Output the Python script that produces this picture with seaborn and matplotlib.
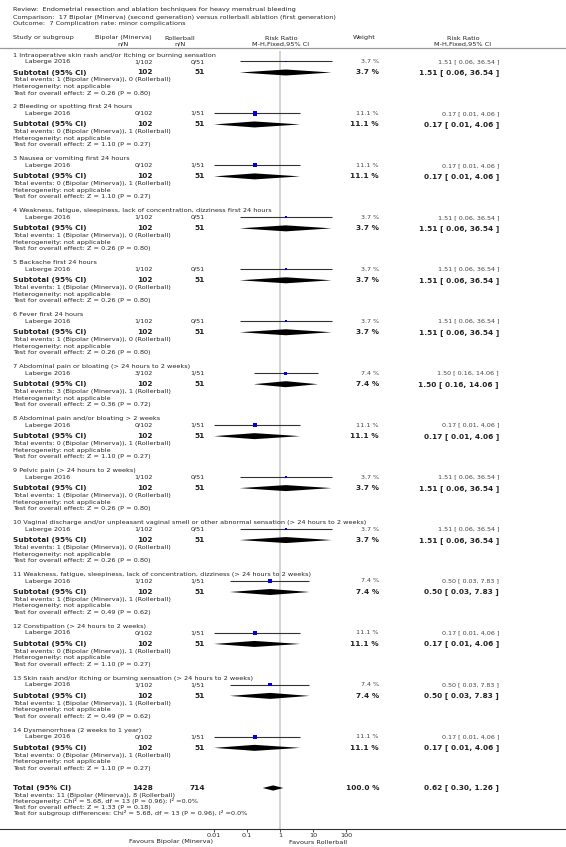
import numpy as np
import pandas as pd
import matplotlib
matplotlib.use("Agg")
import matplotlib.pyplot as plt
import matplotlib.transforms as mtrans
import seaborn as sns

# ---------------- data ----------------
review = "Review:  Endometrial resection and ablation techniques for heavy menstrual bleeding"
comparison = "Comparison:  17 Bipolar (Minerva) (second generation) versus rollerball ablation (first generation)"
outcome = "Outcome:  7 Complication rate: minor complications"

groups = [
    "1 Intraoperative skin rash and/or itching or burning sensation",
    "2 Bleeding or spotting first 24 hours",
    "3 Nausea or vomiting first 24 hours",
    "4 Weakness, fatigue, sleepiness, lack of concentration, dizziness first 24 hours",
    "5 Backache first 24 hours",
    "6 Fever first 24 hours",
    "7 Abdominal pain or bloating (> 24 hours to 2 weeks)",
    "8 Abdominal pain and/or bloating > 2 weeks",
    "9 Pelvic pain (> 24 hours to 2 weeks)",
    "10 Vaginal discharge and/or unpleasant vaginal smell or other abnormal sensation (> 24 hours to 2 weeks)",
    "11 Weakness, fatigue, sleepiness, lack of concentration, dizziness (> 24 hours to 2 weeks)",
    "12 Constipation (> 24 hours to 2 weeks)",
    "13 Skin rash and/or itching or burning sensation (> 24 hours to 2 weeks)",
    "14 Dysmenorrhoea (2 weeks to 1 year)",
]
study = "Laberge 2016"
exp_events = [1, 0, 0, 1, 1, 1, 3, 0, 1, 1, 1, 0, 1, 0]
exp_n = [102] * 14
ctl_events = [0, 1, 1, 0, 0, 0, 1, 1, 0, 0, 1, 1, 1, 1]
ctl_n = [51] * 14
weights = [3.7, 11.1, 11.1, 3.7, 3.7, 3.7, 7.4, 11.1, 3.7, 3.7, 7.4, 11.1, 7.4, 11.1]
rr = [1.51, 0.17, 0.17, 1.51, 1.51, 1.51, 1.50, 0.17, 1.51, 1.51, 0.50, 0.17, 0.50, 0.17]
rr_lo = [0.06, 0.01, 0.01, 0.06, 0.06, 0.06, 0.16, 0.01, 0.06, 0.06, 0.03, 0.01, 0.03, 0.01]
rr_hi = [36.54, 4.06, 4.06, 36.54, 36.54, 36.54, 14.06, 4.06, 36.54, 36.54, 7.83, 4.06, 7.83, 4.06]
z_vals = [0.26, 1.10, 1.10, 0.26, 0.26, 0.26, 0.36, 1.10, 0.26, 0.26, 0.49, 1.10, 0.49, 1.10]
p_vals = [0.80, 0.27, 0.27, 0.80, 0.80, 0.80, 0.72, 0.27, 0.80, 0.80, 0.62, 0.27, 0.62, 0.27]

total_exp_n, total_ctl_n = 1428, 714
total_exp_ev, total_ctl_ev = 11, 8
total_rr, total_lo, total_hi = 0.62, 0.30, 1.26
total_weight = 100.0
tick_vals = [0.01, 0.1, 1, 10, 100]
tick_labels = ["0.01", "0.1", "1", "10", "100"]

# ---------------- layout ----------------
W, H = 566, 847
fig = plt.figure(figsize=(W / 100, H / 100), dpi=100)
sns.set_style("white")
plt.rcParams["font.family"] = ["DejaVu Sans"]
ax = fig.add_axes([0, 0, 1, 1])
ax.set_xscale("log")
x1, dec = 280.0, 33.0  # pixel of RR=1 and pixels per decade
ax.set_xlim(10 ** (-x1 / dec), 10 ** ((W - x1) / dec))
ax.set_ylim(H, 0)
ax.patch.set_alpha(0)

tr = mtrans.blended_transform_factory(ax.transAxes, ax.transData)
TC = "#222222"
FS = 4.65
FS_S = 4.55
FS_B = 5.35


def txt(x, y, s, ha="left", size=FS, weight="normal", color=TC):
    ax.text(x / W, y, s, transform=tr, ha=ha, va="center", fontsize=size,
            fontweight=weight, color=color)


# titles
txt(13, 10, review)
txt(13, 17, comparison)
txt(13, 24, outcome)

# headers
txt(13, 38, "Study or subgroup")
txt(123, 38, "Bipolar (Minerva)", ha="center")
txt(123, 44.5, "n/N", ha="center")
txt(180, 38, "Rollerball", ha="center")
txt(180, 44.5, "n/N", ha="center")
txt(281, 38, "Risk Ratio", ha="center")
txt(281, 44.5, "M-H,Fixed,95% CI", ha="center")
txt(364, 38, "Weight", ha="center")
txt(463, 38, "Risk Ratio", ha="center")
txt(463, 44.5, "M-H,Fixed,95% CI", ha="center")
ax.axhline(48.5, color="#9a9a9a", lw=0.9)

period = 51.95
hdr_y = [55 + g * period for g in range(len(groups))]
study_y = [h + 6.5 for h in hdr_y]
sub_y = [h + 17.5 for h in hdr_y]

# reference line at RR = 1
ax.vlines(1, 51, 829, color="#d0d0d0", lw=1.3, zorder=0)

df = pd.DataFrame({"rr": rr, "lo": rr_lo, "hi": rr_hi, "w": weights, "y": study_y, "ys": sub_y})

# CI lines
ax.hlines(df["y"], df["lo"], df["hi"], color="#333333", lw=0.8, zorder=2)
# study squares
sns.scatterplot(data=df, x="rr", y="y", size="w", sizes=(1.5, 9.0), size_norm=(3.7, 11.1),
                marker="s", color="#0000e0", linewidth=0, legend=False, ax=ax, zorder=3)


def diamond(lo, est, hi, y, h):
    ax.fill([lo, est, hi, est], [y, y - h, y, y + h], color="black", lw=0, zorder=3)


for g in range(len(groups)):
    h = hdr_y[g]
    txt(13, h, groups[g])
    txt(25, study_y[g], study)
    txt(153, study_y[g], f"{exp_events[g]}/{exp_n[g]}", ha="right", size=FS_S)
    txt(205, study_y[g], f"{ctl_events[g]}/{ctl_n[g]}", ha="right", size=FS_S)
    txt(379, study_y[g], f"{weights[g]:.1f} %", ha="right", size=FS_S, color="#444444")
    txt(499, study_y[g], f"{rr[g]:.2f} [ {rr_lo[g]:.2f}, {rr_hi[g]:.2f} ]", ha="right", size=FS_S,
        color="#444444")

    txt(13, sub_y[g], "Subtotal (95% CI)", size=FS_B, weight="bold")
    txt(153, sub_y[g], f"{exp_n[g]}", ha="right", size=FS_B, weight="bold")
    txt(205, sub_y[g], f"{ctl_n[g]}", ha="right", size=FS_B, weight="bold")
    txt(379, sub_y[g], f"{weights[g]:.1f} %", ha="right", size=FS_B, weight="bold")
    txt(499, sub_y[g], f"{rr[g]:.2f} [ {rr_lo[g]:.2f}, {rr_hi[g]:.2f} ]", ha="right", size=FS_B, weight="bold")
    diamond(rr_lo[g], rr[g], rr_hi[g], sub_y[g], 3.0)

    txt(13, h + 25, f"Total events: {exp_events[g]} (Bipolar (Minerva)), {ctl_events[g]} (Rollerball)")
    txt(13, h + 31.5, "Heterogeneity: not applicable")
    txt(13, h + 38, f"Test for overall effect: Z = {z_vals[g]:.2f} (P = {p_vals[g]:.2f})")

# overall total
ty = 788
txt(13, ty, "Total (95% CI)", size=FS_B, weight="bold")
txt(153, ty, f"{total_exp_n}", ha="right", size=FS_B, weight="bold")
txt(205, ty, f"{total_ctl_n}", ha="right", size=FS_B, weight="bold")
txt(379, ty, f"{total_weight:.1f} %", ha="right", size=FS_B, weight="bold")
txt(499, ty, f"{total_rr:.2f} [ {total_lo:.2f}, {total_hi:.2f} ]", ha="right", size=FS_B, weight="bold")
diamond(total_lo, total_rr, total_hi, ty, 2.6)
txt(13, ty + 7, f"Total events: {total_exp_ev} (Bipolar (Minerva)), {total_ctl_ev} (Rollerball)")
txt(13, ty + 13, "Heterogeneity: Chi\u00b2 = 5.68, df = 13 (P = 0.96); I\u00b2 =0.0%")
txt(13, ty + 19, "Test for overall effect: Z = 1.33 (P = 0.18)")
txt(13, ty + 25, "Test for subgroup differences: Chi\u00b2 = 5.68, df = 13 (P = 0.96), I\u00b2 =0.0%")

# x axis
for s in ["top", "left", "right"]:
    ax.spines[s].set_visible(False)
ax.spines["bottom"].set_position(("data", 829.5))
ax.spines["bottom"].set_color("#333333")
ax.spines["bottom"].set_linewidth(0.8)
ax.set_xticks(tick_vals)
ax.set_xticklabels(tick_labels)
ax.xaxis.set_minor_locator(matplotlib.ticker.NullLocator())
ax.tick_params(axis="x", direction="out", length=2, width=0.6, pad=0.8, labelsize=FS, labelcolor=TC,
               color="#333333", bottom=True)
ax.set_yticks([])
ax.set_xlabel("")
ax.set_ylabel("")

txt(213, 842, "Favours Bipolar (Minerva)", ha="right")
txt(289, 842, "Favours Rollerball", ha="left")

fig.savefig("out.png", dpi=100)
